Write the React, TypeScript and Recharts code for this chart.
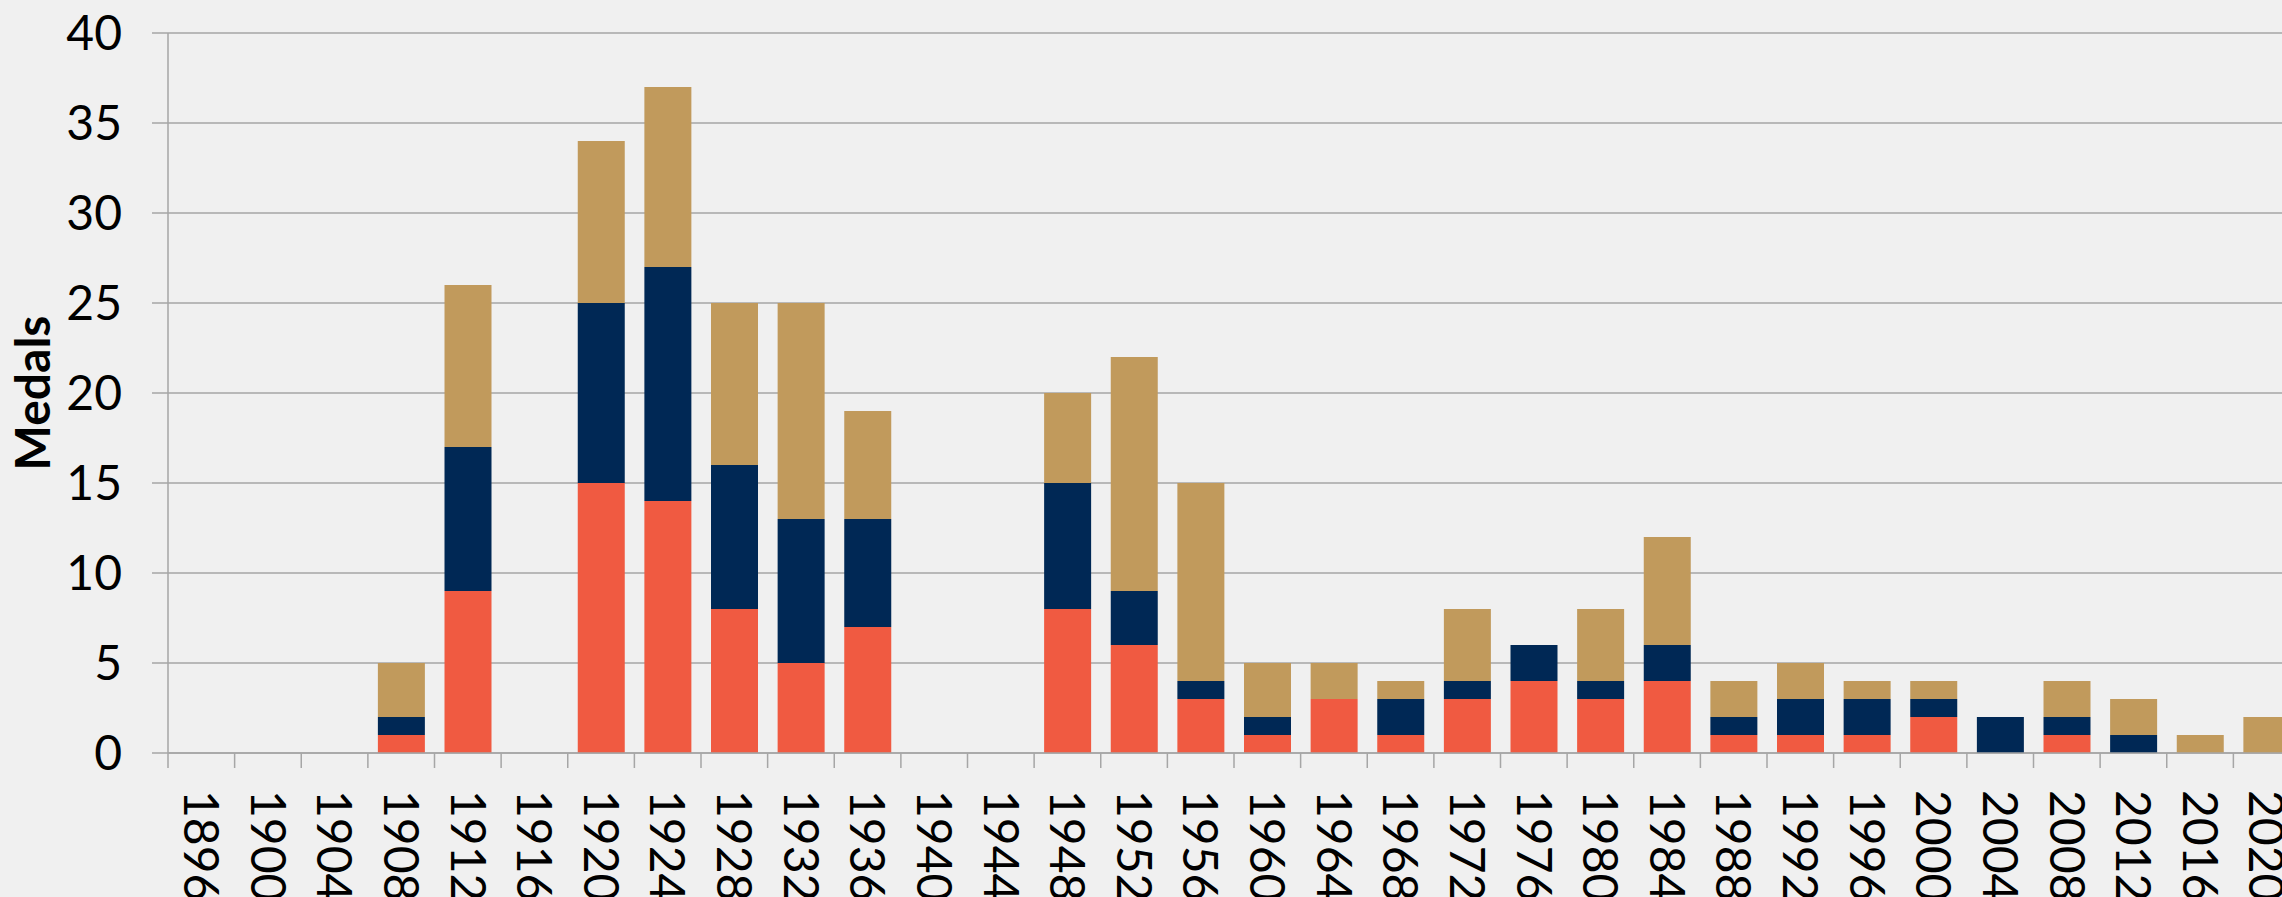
import React from 'react';
import { BarChart, Bar, XAxis, YAxis, CartesianGrid } from 'recharts';

// Summer Games, medals per edition
const years = [
  '1896', '1900', '1904', '1908', '1912', '1916', '1920', '1924', '1928', '1932', '1936',
  '1940', '1944', '1948', '1952', '1956', '1960', '1964', '1968', '1972', '1976', '1980',
  '1984', '1988', '1992', '1996', '2000', '2004', '2008', '2012', '2016', '2020',
];
const gold = [0, 0, 0, 1, 9, 0, 15, 14, 8, 5, 7, 0, 0, 8, 6, 3, 1, 3, 1, 3, 4, 3, 4, 1, 1, 1, 2, 0, 1, 0, 0, 0];
const silver = [0, 0, 0, 1, 8, 0, 10, 13, 8, 8, 6, 0, 0, 7, 3, 1, 1, 0, 2, 1, 2, 1, 2, 1, 2, 2, 1, 2, 1, 1, 0, 0];
const bronze = [0, 0, 0, 3, 9, 0, 9, 10, 9, 12, 6, 0, 0, 5, 13, 11, 3, 2, 1, 4, 0, 4, 6, 2, 2, 1, 1, 0, 2, 2, 1, 2];
const yTicks = [0, 5, 10, 15, 20, 25, 30, 35, 40];

const data = years.map((year, i) => ({ year, gold: gold[i], silver: silver[i], bronze: bronze[i] }));

const CHART_W = 2300;
const CHART_H = 897;
const AXIS_W = 168;
const BAND = (CHART_W - AXIS_W) / years.length;
const GRID = '#a6a6a6';
const FONT = 'Lato, "Open Sans", sans-serif';

const YearTick = (props: any) => {
  const { x, y, payload } = props;
  return (
    <g transform={`translate(${x},${y})`}>
      <line x1={-BAND / 2} y1={0} x2={-BAND / 2} y2={15} stroke={GRID} strokeWidth={1.5} />
      <text transform="rotate(90)" x={37} y={0} dy="0.36em" fontSize={48} fill="#000" textAnchor="start" fontFamily={FONT}>
        {payload.value}
      </text>
    </g>
  );
};

const YLabel = (props: any) => {
  const { viewBox } = props;
  const cy = viewBox.y + viewBox.height / 2;
  return (
    <text x={50} y={cy} transform={`rotate(-90, 50, ${cy})`} textAnchor="middle" fontSize={48} fontWeight="bold" fill="#000" fontFamily={FONT}>
      Medals
    </text>
  );
};

export default function App() {
  return (
    <div style={{ position: 'fixed', left: 0, top: 0, width: 2282, height: 897, overflow: 'hidden', background: '#f0f0f0', fontFamily: FONT }}>
      <BarChart width={CHART_W} height={CHART_H} data={data} margin={{ top: 33, right: 0, left: 0, bottom: 0 }} barSize={47}>
        <CartesianGrid vertical={false} stroke={GRID} strokeWidth={1.5} />
        <XAxis
          dataKey="year"
          interval={0}
          height={CHART_H - 33 - 720}
          tickSize={0}
          tickMargin={0}
          tickLine={false}
          axisLine={{ stroke: GRID, strokeWidth: 1.5 }}
          tick={<YearTick />}
        />
        <YAxis
          width={AXIS_W}
          domain={[0, 40]}
          ticks={yTicks}
          tickSize={16}
          tickMargin={30}
          axisLine={{ stroke: GRID, strokeWidth: 1.5 }}
          tickLine={{ stroke: GRID, strokeWidth: 1.5 }}
          tick={{ fontSize: 48, fill: '#000', fontFamily: FONT }}
          label={<YLabel />}
        />
        <Bar dataKey="gold" stackId="m" fill="#f05a41" isAnimationActive={false} />
        <Bar dataKey="silver" stackId="m" fill="#002855" isAnimationActive={false} />
        <Bar dataKey="bronze" stackId="m" fill="#c19a5c" isAnimationActive={false} />
      </BarChart>
    </div>
  );
}
